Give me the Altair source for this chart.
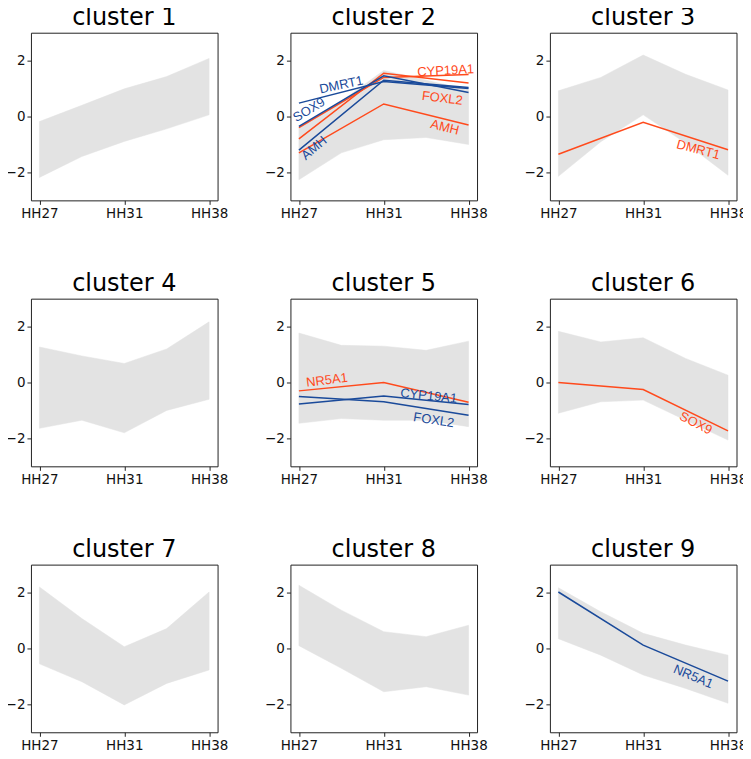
import altair as alt

# ---------------- data ----------------
TIME_LABELS = ["HH27", "HH31", "HH38"]
BAND_T = [0, 0.5, 1, 1.5, 2]

# envelope of the grey profile band (lower / upper) at BAND_T
band_lo = {
    1: [-2.18, -1.43, -0.89, -0.44, 0.06],
    2: [-2.26, -1.30, -0.83, -0.75, -1.00],
    3: [-2.14, -0.90, 0.06, -0.95, -2.10],
    4: [-1.64, -1.35, -1.80, -1.00, -0.60],
    5: [-1.46, -1.29, -1.35, -1.35, -1.58],
    6: [-1.10, -0.69, -0.63, -1.35, -2.06],
    7: [-0.55, -1.19, -2.02, -1.25, -0.77],
    8: [0.10, -0.71, -1.55, -1.37, -1.67],
    9: [0.35, -0.24, -0.95, -1.43, -1.96],
}
band_hi = {
    1: [-0.18, 0.40, 0.99, 1.43, 2.08],
    2: [-0.40, 0.55, 1.65, 1.30, 0.95],
    3: [0.92, 1.40, 2.20, 1.51, 0.95],
    4: [1.27, 0.95, 0.68, 1.20, 2.17],
    5: [1.77, 1.33, 1.30, 1.15, 1.48],
    6: [1.83, 1.45, 1.60, 0.86, 0.26],
    7: [2.20, 1.07, 0.06, 0.71, 2.02],
    8: [2.26, 1.37, 0.60, 0.42, 0.83],
    9: [2.17, 1.31, 0.54, 0.12, -0.24],
}

# highlighted genes: (cluster, gene, group, values at HH27/HH31/HH38)
highlight = [
    (2, "CYP19A1", "orange", [-0.40, 1.40, 1.50]),
    (2, "FOXL2", "orange", [-0.80, 1.55, 1.20]),
    (2, "AMH", "orange", [-1.30, 0.45, -0.30]),
    (2, "DMRT1", "blue", [0.48, 1.25, 1.00]),
    (2, "SOX9", "blue", [-0.35, 1.46, 0.86]),
    (2, "AMH", "blue", [-1.20, 1.30, 1.04]),
    (3, "DMRT1", "orange", [-1.35, -0.21, -1.19]),
    (5, "NR5A1", "orange", [-0.30, 0.00, -0.71]),
    (5, "CYP19A1", "blue", [-0.77, -0.48, -0.79]),
    (5, "FOXL2", "blue", [-0.50, -0.69, -1.17]),
    (6, "SOX9", "orange", [0.00, -0.25, -1.73]),
    (9, "NR5A1", "blue", [2.02, 0.12, -1.17]),
]

# line labels: (cluster, text, group, x, y, rotation in degrees, counter-clockwise)
labels = [
    (2, "DMRT1", "blue", 0.50, 1.13, 12),
    (2, "SOX9", "blue", 0.12, 0.24, 31),
    (2, "AMH", "blue", 0.18, -1.13, 40),
    (2, "CYP19A1", "orange", 1.73, 1.64, 3),
    (2, "FOXL2", "orange", 1.69, 0.65, -7),
    (2, "AMH", "orange", 1.72, -0.39, -14),
    (3, "DMRT1", "orange", 1.65, -1.19, -15),
    (5, "NR5A1", "orange", 0.33, 0.08, 7),
    (5, "CYP19A1", "blue", 1.53, -0.48, -6),
    (5, "FOXL2", "blue", 1.59, -1.35, -9),
    (6, "SOX9", "orange", 1.62, -1.46, -27),
    (9, "NR5A1", "blue", 1.59, -1.01, -23),
]

ORANGE = "#ff4a1c"
BLUE = "#1a4a9a"
BAND = "#e3e3e3"

# ---------------- tables ----------------
band_rows = []
for c in range(1, 10):
    for t, lo, hi in zip(BAND_T, band_lo[c], band_hi[c]):
        band_rows.append({"cluster": c, "t": float(t), "lo": float(lo), "hi": float(hi)})

line_rows = []
for i, (c, gene, grp, vals) in enumerate(highlight):
    for t, v in enumerate(vals):
        line_rows.append({"cluster": c, "id": f"{gene}_{grp}_{i}", "group": grp,
                          "t": float(t), "v": float(v)})

label_rows = [
    {"cluster": c, "text": txt, "group": g, "t": x, "v": y, "angle": (-rot) % 360}
    for c, txt, g, x, y, rot in labels
]

color_scale = alt.Scale(domain=["orange", "blue"], range=[ORANGE, BLUE])
label_expr = "['HH27','HH31','HH38'][datum.value]"

XS = alt.Scale(domain=[-0.1, 2.1], nice=False, zero=False)
YS = alt.Scale(domain=[-3, 3], nice=False, zero=False)
XAX = alt.Axis(values=[0, 1, 2], labelExpr=label_expr, title=None,
               labelFlush=False, labelOverlap=False)
YAX = alt.Axis(values=[-2, 0, 2], title=None, labelFlush=False, labelOverlap=False)

W, H = 187, 168
panels = []
for c in range(1, 10):
    bd = alt.Data(values=[r for r in band_rows if r["cluster"] == c])
    band = alt.Chart(bd).mark_area(fill=BAND, stroke=BAND, strokeWidth=0.5).encode(
        x=alt.X("t", type="quantitative", scale=XS, axis=XAX),
        y=alt.Y("hi", type="quantitative", scale=YS, axis=YAX),
        y2=alt.Y2("lo"),
    )
    layers = [band]
    lrows = [r for r in line_rows if r["cluster"] == c]
    if lrows:
        lines = alt.Chart(alt.Data(values=lrows)).mark_line(strokeWidth=1.5).encode(
            x=alt.X("t", type="quantitative", scale=XS, axis=XAX),
            y=alt.Y("v", type="quantitative", scale=YS, axis=YAX),
            color=alt.Color("group", type="nominal", scale=color_scale, legend=None),
            detail=alt.Detail("id", type="nominal"),
        )
        layers.append(lines)
        trows = [r for r in label_rows if r["cluster"] == c]
        texts = alt.Chart(alt.Data(values=trows)).mark_text(
            font="Liberation Sans", fontSize=13, align="center", baseline="middle"
        ).encode(
            x=alt.X("t", type="quantitative", scale=XS, axis=XAX),
            y=alt.Y("v", type="quantitative", scale=YS, axis=YAX),
            text=alt.Text("text", type="nominal"),
            angle=alt.Angle("angle", type="quantitative", scale=None),
            color=alt.Color("group", type="nominal", scale=color_scale, legend=None),
        )
        layers.append(texts)
    panels.append(
        alt.layer(*layers).properties(width=W, height=H, title=f"cluster {c}")
    )

chart = (
    alt.concat(*panels, columns=3, spacing={"row": 98.5, "column": 73}, bounds="flush")
    .properties(padding={"left": -4, "top": -4, "right": -4.5, "bottom": -3})
    .configure_view(stroke="#222222", strokeWidth=1)
    .configure_axis(
        domain=False, grid=False, ticks=True, tickColor="#222222", tickSize=4,
        tickWidth=1, labelFont="DejaVu Sans", labelFontSize=13.5, labelColor="#111111",
        labelPadding=2,
    )
    .configure_title(
        font="DejaVu Sans", fontSize=24, fontWeight="normal", color="#000000",
        anchor="middle", baseline="alphabetic", offset=3,
    )
)

chart.save("out.html", embed_options={"renderer": "svg", "actions": False})
